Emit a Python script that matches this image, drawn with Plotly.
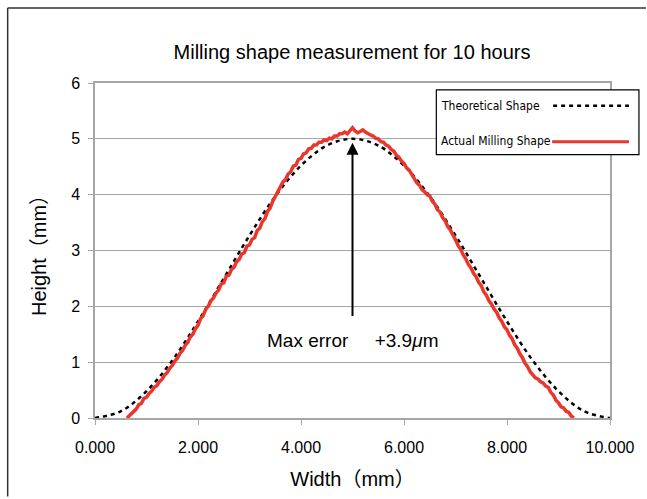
import plotly.graph_objects as go

# Theoretical profile (dashed)
theory_x = [0.0, 0.5, 1.0, 1.5, 2.0, 2.5, 3.0, 3.5, 4.0, 4.5, 5.0,
            5.5, 6.0, 6.5, 7.0, 7.5, 8.0, 8.5, 9.0, 9.5, 10.0]
theory_y = [0.0, 0.12, 0.48, 1.03, 1.73, 2.50, 3.27, 3.97, 4.52, 4.88, 5.0,
            4.88, 4.52, 3.97, 3.27, 2.50, 1.73, 1.03, 0.48, 0.12, 0.0]

# Measured profile after 10 h of milling (red)
actual_x = [0.62, 0.66, 0.70, 0.75, 0.80, 0.85, 0.90, 0.95, 1.00, 1.05, 1.10, 1.15,
            1.20, 1.25, 1.30, 1.35, 1.40, 1.45, 1.50, 1.55, 1.60, 1.65, 1.70, 1.75,
            1.80, 1.85, 1.90, 1.95, 2.00, 2.05, 2.10, 2.15, 2.20, 2.25, 2.30, 2.35,
            2.40, 2.45, 2.50, 2.55, 2.60, 2.65, 2.70, 2.75, 2.80, 2.85, 2.90, 2.95,
            3.00, 3.05, 3.10, 3.15, 3.20, 3.25, 3.30, 3.35, 3.40, 3.45, 3.50, 3.55,
            3.60, 3.65, 3.70, 3.75, 3.80, 3.85, 3.90, 3.95, 4.00, 4.05, 4.10, 4.15,
            4.20, 4.25, 4.30, 4.35, 4.40, 4.45, 4.50, 4.55, 4.60, 4.65, 4.70, 4.75,
            4.80, 4.85, 4.90, 4.95, 5.00, 5.05, 5.10, 5.15, 5.20, 5.25, 5.30, 5.35,
            5.40, 5.45, 5.50, 5.55, 5.60, 5.65, 5.70, 5.75, 5.80, 5.85, 5.90, 5.95,
            6.00, 6.05, 6.10, 6.15, 6.20, 6.25, 6.30, 6.35, 6.40, 6.45, 6.50, 6.55,
            6.60, 6.65, 6.70, 6.75, 6.80, 6.85, 6.90, 6.95, 7.00, 7.05, 7.10, 7.15,
            7.20, 7.25, 7.30, 7.35, 7.40, 7.45, 7.50, 7.55, 7.60, 7.65, 7.70, 7.75,
            7.80, 7.85, 7.90, 7.95, 8.00, 8.05, 8.10, 8.15, 8.20, 8.25, 8.30, 8.35,
            8.40, 8.45, 8.50, 8.55, 8.60, 8.65, 8.70, 8.75, 8.80, 8.85, 8.90, 8.95,
            9.00, 9.05, 9.10, 9.15, 9.20, 9.25, 9.30]
actual_y = [0.00, 0.04, 0.06, 0.13, 0.16, 0.24, 0.26, 0.35, 0.37, 0.44, 0.48, 0.55,
            0.58, 0.65, 0.69, 0.77, 0.81, 0.89, 0.94, 1.02, 1.07, 1.16, 1.21, 1.30,
            1.35, 1.45, 1.50, 1.60, 1.66, 1.78, 1.83, 1.95, 2.00, 2.10, 2.15, 2.24,
            2.29, 2.40, 2.42, 2.54, 2.56, 2.66, 2.70, 2.80, 2.84, 2.94, 2.96, 3.08,
            3.10, 3.20, 3.23, 3.36, 3.40, 3.52, 3.57, 3.70, 3.76, 3.88, 3.96, 4.07,
            4.12, 4.23, 4.27, 4.37, 4.41, 4.51, 4.53, 4.63, 4.65, 4.73, 4.75, 4.82,
            4.83, 4.89, 4.89, 4.94, 4.94, 4.98, 4.97, 5.01, 5.00, 5.05, 5.05, 5.09,
            5.09, 5.12, 5.09, 5.15, 5.20, 5.14, 5.11, 5.13, 5.16, 5.12, 5.09, 5.07,
            5.05, 5.01, 5.00, 4.95, 4.94, 4.89, 4.87, 4.81, 4.78, 4.71, 4.67, 4.60,
            4.56, 4.48, 4.44, 4.36, 4.31, 4.21, 4.17, 4.09, 4.05, 4.00, 3.98, 3.88,
            3.83, 3.73, 3.69, 3.59, 3.53, 3.43, 3.37, 3.26, 3.19, 3.09, 3.02, 2.92,
            2.85, 2.75, 2.69, 2.59, 2.53, 2.43, 2.37, 2.26, 2.20, 2.10, 2.04, 1.95,
            1.89, 1.79, 1.73, 1.63, 1.58, 1.48, 1.42, 1.31, 1.25, 1.15, 1.08, 0.98,
            0.92, 0.83, 0.78, 0.72, 0.70, 0.65, 0.63, 0.57, 0.55, 0.46, 0.41, 0.32,
            0.27, 0.20, 0.18, 0.12, 0.10, 0.03, 0.00]

x_ticks = [0, 2, 4, 6, 8, 10]
y_ticks = [0, 1, 2, 3, 4, 5, 6]

FONT = 'Liberation Sans, Arial, Noto Sans CJK JP, sans-serif'
NARROW = 'DejaVu Sans Condensed, Liberation Sans, sans-serif'
RED = '#e8372c'
GRID = '#a6a6a6'


def px_x(p):
    # page pixel -> paper x (plot area spans 95..611)
    return (p - 95) / 516


def px_y(p):
    # page pixel -> paper y (plot area spans 83..420)
    return (420 - p) / 337


fig = go.Figure()
fig.add_trace(go.Scatter(
    x=theory_x, y=theory_y, mode='lines', line_shape='spline',
    line=dict(color='black', width=2.5, dash='4px,4px'),
    name='Theoretical Shape', showlegend=False, hoverinfo='skip'
))
fig.add_trace(go.Scatter(
    x=actual_x, y=actual_y, mode='lines',
    line=dict(color=RED, width=3.5),
    name='Actual Milling Shape', showlegend=False
))

# hand-drawn legend: label on the left, line sample on the right
fig.add_shape(type='rect', xref='paper', yref='paper',
              x0=px_x(437), x1=px_x(640), y0=px_y(155), y1=px_y(90),
              line=dict(color='black', width=1.2), fillcolor='white', layer='above')
fig.add_shape(type='line', xref='paper', yref='paper',
              x0=px_x(554), x1=px_x(630), y0=px_y(106), y1=px_y(106),
              line=dict(color='black', width=2.5, dash='4px,4px'), layer='above')
fig.add_shape(type='line', xref='paper', yref='paper',
              x0=px_x(553), x1=px_x(630), y0=px_y(142), y1=px_y(142),
              line=dict(color=RED, width=3), layer='above')
for label, ypx in [('Theoretical Shape', 106), ('Actual Milling Shape', 141)]:
    fig.add_annotation(text=label, xref='paper', yref='paper',
                       x=px_x(440), y=px_y(ypx),
                       xanchor='left', yanchor='middle', showarrow=False,
                       font=dict(family=NARROW, size=12, color='black'))

# outer chart frame (left and top edges are the only visible ones)
fig.add_shape(type='line', xref='paper', yref='paper',
              x0=px_x(7.5), x1=px_x(7.5), y0=px_y(499), y1=px_y(7.5),
              line=dict(color='#333333', width=1.5), layer='below')
fig.add_shape(type='line', xref='paper', yref='paper',
              x0=px_x(7.5), x1=px_x(647), y0=px_y(7.5), y1=px_y(7.5),
              line=dict(color='#333333', width=1.5), layer='below')

# max error arrow and label
fig.add_annotation(x=5.0, y=4.93, ax=5.0, ay=1.8, axref='x', ayref='y',
                   xref='x', yref='y', text='', showarrow=True,
                   arrowhead=2, arrowsize=1.2, arrowwidth=2, arrowcolor='black')
fig.add_annotation(x=5.0, y=1.39, xref='x', yref='y', showarrow=False,
                   text='Max error&nbsp;&nbsp;&nbsp;&nbsp;&nbsp;+3.9<i>μ</i>m',
                   font=dict(family=FONT, size=19, color='black'))

fig.update_layout(
    width=647, height=499,
    paper_bgcolor='white', plot_bgcolor='white',
    margin=dict(l=95, r=36, t=83, b=79),
    font=dict(family=FONT, color='black', size=16),
    title=dict(text='Milling shape measurement for 10 hours',
               x=352 / 647, xanchor='center', y=1 - 52 / 499, yanchor='middle',
               font=dict(family=FONT, size=20, color='black')),
    xaxis=dict(range=[0, 10], tickvals=x_ticks, tickformat='.3f',
               showgrid=False, zeroline=False,
               showline=True, linecolor=GRID, linewidth=1.5, mirror=True,
               ticks='outside', ticklen=5, tickcolor=GRID,
               tickfont=dict(size=16), ticklabelstandoff=9,
               title=dict(text='Width（mm）', font=dict(size=20), standoff=17)),
    yaxis=dict(range=[0, 6], tickvals=y_ticks,
               showgrid=True, gridcolor=GRID, gridwidth=1, zeroline=False,
               showline=True, linecolor=GRID, linewidth=1.5, mirror=True,
               ticks='outside', ticklen=5, tickcolor=GRID,
               tickfont=dict(size=16), ticklabelstandoff=5,
               title=dict(text='Height（mm）', font=dict(size=20), standoff=19)),
    showlegend=False,
)

fig.write_html('out.html', config={'displayModeBar': False},
               post_script="document.body.style.margin='0';document.body.style.overflow='hidden';")
